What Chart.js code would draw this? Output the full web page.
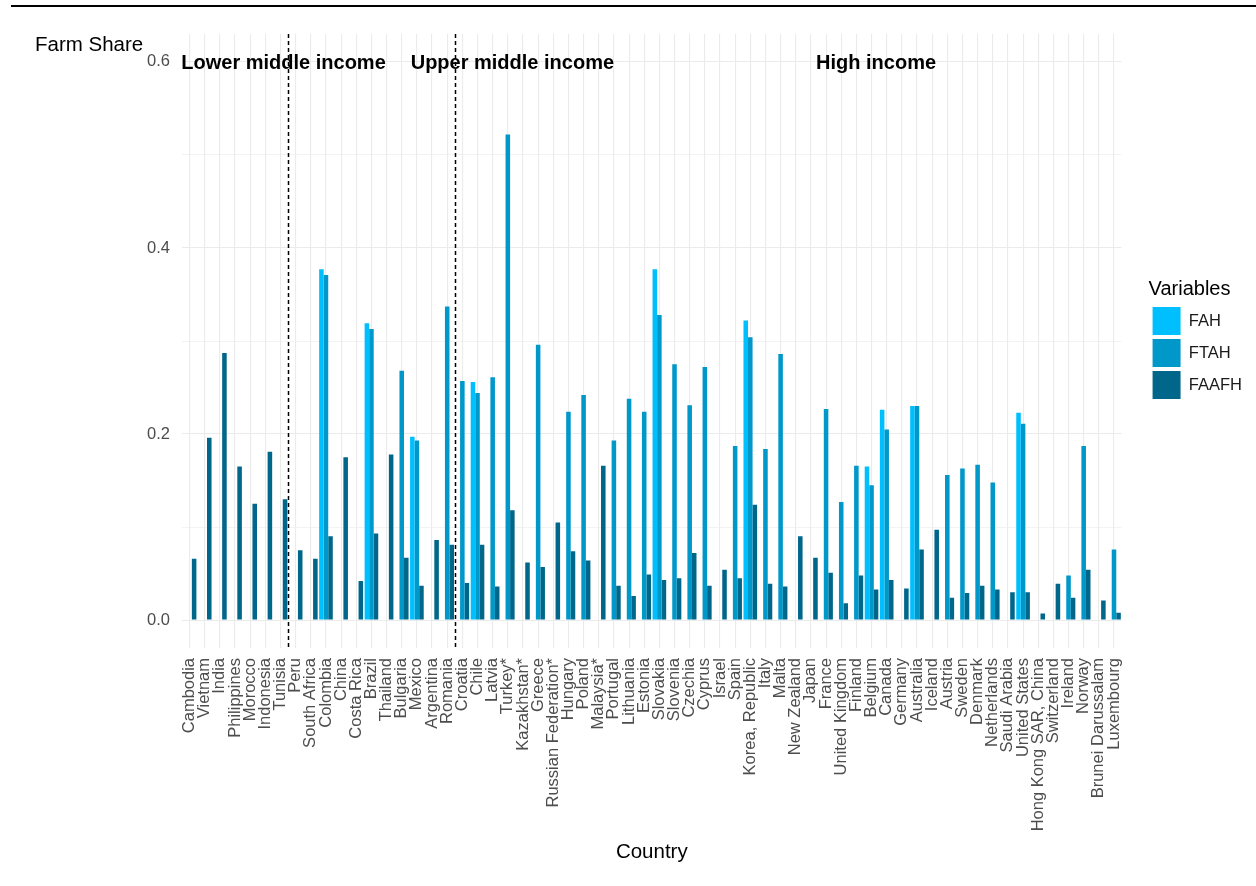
<!DOCTYPE html>
<html lang="en">
<head>
  <meta charset="UTF-8">
  <title>Farm Share by Country</title>
  <script src="https://cdn.jsdelivr.net/npm/chart.js"></script>
  <style>
    body { margin: 0; background: #fff; }
    canvas { display: block; }
  </style>
</head>
<body>
  <canvas id="chart" width="1256" height="886"></canvas>

  <script>
    // Countries, ordered by income group
    const countries = [
      'Cambodia', 'Vietnam', 'India', 'Philippines', 'Morocco', 'Indonesia', 'Tunisia',
      'Peru', 'South Africa', 'Colombia', 'China', 'Costa Rica', 'Brazil', 'Thailand',
      'Bulgaria', 'Mexico', 'Argentina', 'Romania',
      'Croatia', 'Chile', 'Latvia', 'Turkey*', 'Kazakhstan*', 'Greece', 'Russian Federation*',
      'Hungary', 'Poland', 'Malaysia*', 'Portugal', 'Lithuania', 'Estonia', 'Slovakia',
      'Slovenia', 'Czechia', 'Cyprus', 'Israel', 'Spain', 'Korea, Republic', 'Italy', 'Malta',
      'New Zealand', 'Japan', 'France', 'United Kingdom', 'Finland', 'Belgium', 'Canada',
      'Germany', 'Australia', 'Iceland', 'Austria', 'Sweden', 'Denmark', 'Netherlands',
      'Saudi Arabia', 'United States', 'Hong Kong SAR, China', 'Switzerland', 'Ireland',
      'Norway', 'Brunei Darussalam', 'Luxembourg'
    ];

    const fah = [
      null, null, null, null, null, null, null,
      null, null, 0.377, null, null, 0.319, null,
      null, 0.197, null, null,
      null, 0.256, null, null, null, null, null,
      null, null, null, null, null, null, 0.377,
      null, null, null, null, null, 0.322, null, null,
      null, null, null, null, null, 0.165, 0.226,
      null, 0.230, null, null, null, null, null,
      null, 0.223, null, null, null,
      null, null, null
    ];

    const ftah = [
      null, null, null, null, null, null, null,
      null, null, 0.371, null, null, 0.313, null,
      0.268, 0.193, null, 0.337,
      0.257, 0.244, 0.261, 0.522, null, 0.296, null,
      0.224, 0.242, null, 0.193, 0.238, 0.224, 0.328,
      0.275, 0.231, 0.272, null, 0.187, 0.304, 0.184, 0.286,
      null, null, 0.227, 0.127, 0.166, 0.145, 0.205,
      null, 0.230, null, 0.156, 0.163, 0.167, 0.148,
      null, 0.211, null, null, 0.048,
      0.187, null, 0.076
    ];

    const faafh = [
      0.066, 0.196, 0.287, 0.165, 0.125, 0.181, 0.130,
      0.075, 0.066, 0.090, 0.175, 0.042, 0.093, 0.178,
      0.067, 0.037, 0.086, 0.081,
      0.040, 0.081, 0.036, 0.118, 0.062, 0.057, 0.105,
      0.074, 0.064, 0.166, 0.037, 0.026, 0.049, 0.043,
      0.045, 0.072, 0.037, 0.054, 0.045, 0.124, 0.039, 0.036,
      0.090, 0.067, 0.051, 0.018, 0.048, 0.033, 0.043,
      0.034, 0.076, 0.097, 0.024, 0.029, 0.037, 0.033,
      0.030, 0.030, 0.007, 0.039, 0.024,
      0.054, 0.021, 0.008
    ];

    // Income groups: names, how many countries each, where the label sits (category index)
    const groupNames = ['Lower middle income', 'Upper middle income', 'High income'];
    const groupSizes = [7, 11, 44];
    const groupLabelAt = [6.2, 21.3, 45.3];
    const groupLabelY = 0.6;

    // y axis ticks (minor ones have no label)
    const yTickValues = [0, 0.1, 0.2, 0.3, 0.4, 0.5, 0.6];
    const yTickLabels = ['0.0', '', '0.2', '', '0.4', '', '0.6'];

    const colours = ['#00BFFF', '#0097C9', '#00678A'];
    const fontFamily = '"Liberation Sans", Arial, sans-serif';

    Chart.defaults.font.family = fontFamily;

    // dashed separators between income groups
    const groupBreaks = [];
    let run = 0;
    groupSizes.slice(0, -1).forEach(n => { run += n; groupBreaks.push(run - 0.5); });

    const decor = {
      id: 'decor',
      afterDatasetsDraw(chart) {
        const { ctx, chartArea, scales: { x, y } } = chart;
        ctx.save();
        ctx.strokeStyle = '#000';
        ctx.lineWidth = 1.5;
        ctx.setLineDash([4, 3]);
        groupBreaks.forEach(b => {
          const px = Math.round(x.getPixelForValue(b)) + 0.5;
          ctx.beginPath();
          ctx.moveTo(px, chartArea.top);
          ctx.lineTo(px, chartArea.bottom);
          ctx.stroke();
        });
        ctx.setLineDash([]);
        ctx.fillStyle = '#000';
        ctx.font = 'bold 20px ' + fontFamily;
        ctx.textAlign = 'center';
        ctx.textBaseline = 'middle';
        groupNames.forEach((name, i) => {
          ctx.fillText(name, x.getPixelForValue(groupLabelAt[i]), y.getPixelForValue(groupLabelY) + 2);
        });
        ctx.restore();
      },
      afterDraw(chart) {
        const { ctx } = chart;
        ctx.save();
        // rule across the top of the figure
        ctx.fillStyle = '#000';
        ctx.fillRect(11, 5, chart.width - 11, 2);
        // y axis title, horizontal at top left
        ctx.font = '20.5px ' + fontFamily;
        ctx.textAlign = 'left';
        ctx.textBaseline = 'alphabetic';
        ctx.fillText('Farm Share', 35, 51);
        ctx.restore();
      }
    };

    new Chart(document.getElementById('chart'), {
      type: 'bar',
      data: {
        labels: countries,
        datasets: [
          { label: 'FAH', data: fah, backgroundColor: colours[0] },
          { label: 'FTAH', data: ftah, backgroundColor: colours[1] },
          { label: 'FAAFH', data: faafh, backgroundColor: colours[2] }
        ]
      },
      options: {
        responsive: false,
        animation: false,
        layout: { padding: { top: 34, right: 4, bottom: 0, left: 0 } },
        datasets: {
          bar: { categoryPercentage: 0.9, barPercentage: 1, yAxisID: 'y', borderWidth: 0 }
        },
        scales: {
          x: {
            offset: true,
            grid: { offset: false, color: '#EBEBEB', lineWidth: 1.1, drawTicks: false },
            border: { display: false },
            ticks: {
              autoSkip: false, maxRotation: 90, minRotation: 90, padding: 10,
              color: '#4D4D4D', font: { size: 16.5 }
            },
            title: {
              display: true, text: 'Country', color: '#000',
              font: { size: 20.5 }, padding: { top: 4, bottom: 21 }
            },
            afterFit: s => { s.height = 238; }
          },
          y: {
            min: -0.03,
            max: 0.63,
            afterBuildTicks: s => { s.ticks = yTickValues.map(v => ({ value: v })); },
            grid: {
              color: '#EBEBEB',
              lineWidth: c => (yTickLabels[c.index] ? 1.1 : 0.6),
              drawTicks: false
            },
            border: { display: false },
            ticks: {
              padding: 12, color: '#4D4D4D', font: { size: 16.5 },
              callback: (v, i) => yTickLabels[i]
            },
            afterFit: s => { s.width = 182; }
          },
          // empty axis only used as a gap between the panel and the legend
          gap: {
            type: 'linear', position: 'right', display: true,
            grid: { display: false }, ticks: { display: false }, border: { display: false },
            afterFit: s => { s.width = 27; }
          }
        },
        plugins: {
          legend: {
            position: 'right',
            fullSize: false,
            align: 'center',
            title: {
              display: true, text: 'Variables', position: 'start',
              color: '#000', font: { size: 20 }
            },
            labels: {
              boxWidth: 28, boxHeight: 28, padding: 4,
              color: '#1A1A1A', font: { size: 16.5 }
            }
          },
          tooltip: { enabled: false }
        }
      },
      plugins: [decor]
    });
  </script>
</body>
</html>
